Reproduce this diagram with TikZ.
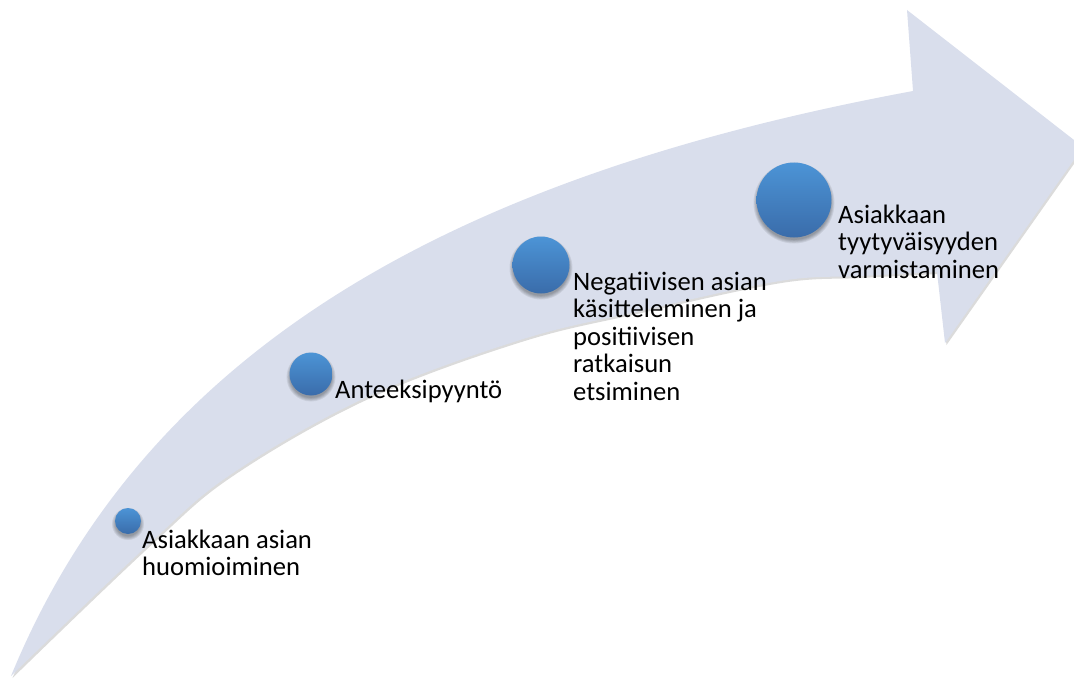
\documentclass[tikz,border=0pt]{standalone}
\usepackage{fontspec}
\setmainfont{Carlito}
\definecolor{arrowfill}{RGB}{217,222,236}
\definecolor{balltop}{RGB}{76,148,214}
\definecolor{ballbot}{RGB}{58,108,170}
\newcommand\mylines[1]{\begin{tabular}[t]{@{}l@{}}#1\end{tabular}}
\newcommand\arrowpath{(11,676) .. controls (150,337.5) and (471,173) .. (913,91)
  -- (907,10) -- (1083,147) -- (945,343) -- (937,272)
  -- plot[smooth, tension=0.6] coordinates {(937,272) (860,276) (780,281) (640,311) (520,340) (367,397) (233,473) (150,543) (11,676)} -- cycle}
\tikzset{
  ball/.style={circle, inner sep=0pt, draw=none, top color=balltop, bottom color=ballbot},
  label text/.style={anchor=base west, inner sep=0pt, font=\fontsize{26.6}{27.6}\selectfont, text=black},
}
\begin{document}
\begin{tikzpicture}[x=1pt, y=-1pt]
\useasboundingbox (0,0) rectangle (1074,682);
\clip (0,0) rectangle (1074,682);
% arrow shadow and body
\begin{scope}[shift={(1.5,2)}]
  \fill[black, opacity=0.14] \arrowpath;
\end{scope}
\fill[arrowfill] \arrowpath;
% ball positions
\coordinate (p1) at (128,521);
\coordinate (p2) at (311,374);
\coordinate (p3) at (541,265);
\coordinate (p4) at (794,200);
% soft shadows
\foreach \p/\r in {p1/13, p2/21.5, p3/28.5, p4/37.5}{
  \foreach \k in {0,1,2,3,4}{
    \fill[black, opacity=0.07] ([yshift=-3pt]\p) circle[radius=\r+3-0.9*\k];
  }
}
\node[ball, minimum size=26pt] (c1) at (p1) {};
\node[ball, minimum size=43pt] (c2) at (p2) {};
\node[ball, minimum size=57pt] (c3) at (p3) {};
\node[ball, minimum size=75pt] (c4) at (p4) {};
% labels
\node[label text] (t1) at (142,548) {\mylines{Asiakkaan asian\\huomioiminen}};
\node[label text] (t2) at (335,398) {Anteeksipyyntö};
\node[label text] (t3) at (573,290) {\mylines{Negatiivisen asian\\käsitteleminen ja\\positiivisen\\ratkaisun\\etsiminen}};
\node[label text] (t4) at (838,223) {\mylines{Asiakkaan\\tyytyväisyyden\\varmistaminen}};
\end{tikzpicture}
\end{document}
